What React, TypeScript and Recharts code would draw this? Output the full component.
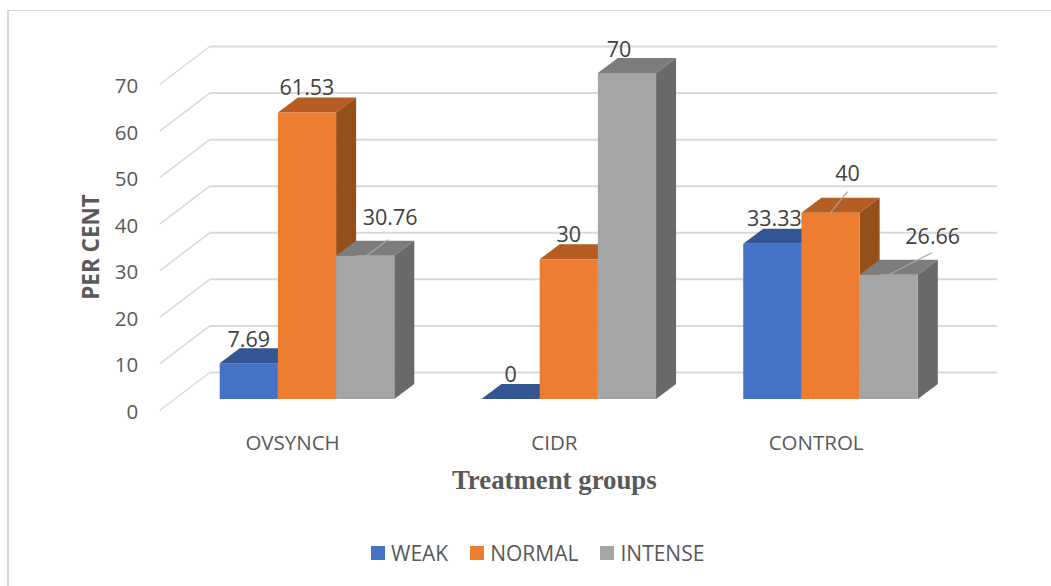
import { Bar, BarChart, CartesianGrid, LabelList, Legend, XAxis, YAxis } from "recharts";

const groups = ["OVSYNCH", "CIDR", "CONTROL"];
const weak = [7.69, 0, 33.33];
const normal = [61.53, 30, 40];
const intense = [30.76, 70, 26.66];
const yTicks = [0, 10, 20, 30, 40, 50, 60, 70];
const seriesOrder = ["WEAK", "NORMAL", "INTENSE"];

const data = groups.map((group, i) => ({
  group,
  WEAK: weak[i],
  NORMAL: normal[i],
  INTENSE: intense[i],
}));

const FONT = "'Open Sans', sans-serif";
const DEPTH_X = 20;
const DEPTH_Y = 15;
// how far the back wall sits from the front of the bars
const WALL_X = 34;
const WALL_Y = 26.5;

const palette = {
  WEAK: { front: "#4472C4", top: "#335593", side: "#2E4F8C" },
  NORMAL: { front: "#ED7D31", top: "#B55D22", side: "#95501A" },
  INTENSE: { front: "#A5A5A5", top: "#7C7C7C", side: "#696969" },
};

// label shift from the top centre of each bar, per group
const labelShift = {
  WEAK: [[0, -25], [0, -26], [2, -26]],
  NORMAL: [[0, -26], [0, -26], [17, -40]],
  INTENSE: [[25, -39], [-8, -25], [44, -39]],
};

// leader lines, only where the label was pulled away
const leaders = {
  WEAK: [null, null, null],
  NORMAL: [null, null, [0, 0, 17, -21]],
  INTENSE: [[0, 1, 23, -16], null, [0, 0, 43, -22]],
};

function Box3D(props: any) {
  const { x, y, width, height, name } = props;
  const c = palette[name as keyof typeof palette];
  const r = x + width;
  const b = y + height;
  return (
    <g>
      <polygon
        points={`${x},${y} ${x + DEPTH_X},${y - DEPTH_Y} ${r + DEPTH_X},${y - DEPTH_Y} ${r},${y}`}
        fill={c.top}
      />
      <polygon
        points={`${r},${y} ${r + DEPTH_X},${y - DEPTH_Y} ${r + DEPTH_X},${b - DEPTH_Y} ${r},${b}`}
        fill={c.side}
      />
      <rect x={x} y={y} width={width} height={height} fill={c.front} />
    </g>
  );
}

function barLabel(name: keyof typeof palette) {
  return (props: any) => {
    const { x, y, width, value, index } = props;
    const cx = x + width / 2;
    const [dx, dy] = labelShift[name][index];
    const leader = leaders[name][index];
    return (
      <g>
        {leader && (
          <line
            x1={cx + leader[0]}
            y1={y + leader[1]}
            x2={cx + leader[2]}
            y2={y + leader[3]}
            stroke="#A6A6A6"
            strokeWidth={1.2}
          />
        )}
        <text
          x={cx + dx}
          y={y + dy}
          textAnchor="middle"
          dominantBaseline="central"
          fontFamily={FONT}
          fontSize={21.5}
          fill="#404040"
        >
          {value}
        </text>
      </g>
    );
  };
}

function WallLine(props: any) {
  const { x1, x2, y1 } = props;
  const backY = y1 - WALL_Y;
  const backX = x1 + WALL_X;
  return (
    <g>
      <line x1={backX - 50} y1={backY + 38} x2={backX} y2={backY} stroke="#D9D9D9" strokeWidth={1.5} />
      <line x1={backX} y1={backY} x2={x2 + 36} y2={backY} stroke="#D9D9D9" strokeWidth={2} />
    </g>
  );
}

function YTick(props: any) {
  const { x, y, payload } = props;
  return (
    <text
      x={x - 37.5}
      y={y + 12}
      textAnchor="end"
      dominantBaseline="central"
      fontFamily={FONT}
      fontSize={20.5}
      fill="#595959"
    >
      {payload.value}
    </text>
  );
}

function XTick(props: any) {
  const { x, y, payload } = props;
  return (
    <text
      x={x - 14}
      y={y + 41}
      textAnchor="middle"
      dominantBaseline="central"
      fontFamily={FONT}
      fontSize={20.5}
      fill="#595959"
    >
      {payload.value}
    </text>
  );
}

function YTitle() {
  return (
    <text
      transform="translate(90, 247) rotate(-90)"
      textAnchor="middle"
      dominantBaseline="central"
      fontFamily={FONT}
      fontWeight={700}
      fontSize={22.5}
      fill="#595959"
    >
      PER CENT
    </text>
  );
}

function LegendRow(props: any) {
  const payload = props.payload ?? [];
  const items = seriesOrder
    .map((name) => payload.find((p: any) => p.value === name))
    .filter(Boolean);
  return (
    <div style={{ display: "flex", alignItems: "center", fontFamily: FONT, fontSize: 21, color: "#595959" }}>
      {items.map((item: any) => (
        <div key={item.value} style={{ display: "flex", alignItems: "center", marginRight: 22 }}>
          <span style={{ width: 14, height: 14, background: item.color, marginRight: 6 }} />
          {item.value}
        </div>
      ))}
    </div>
  );
}

export default function App() {
  return (
    <div style={{ position: "absolute", left: 0, top: 0, width: 1051, height: 586, background: "#fff" }}>
      <div
        style={{
          position: "absolute",
          left: 7,
          top: 10,
          right: 0,
          bottom: 0,
          borderLeft: "2px solid #D9D9D9",
          borderTop: "1px solid #D9D9D9",
        }}
      />
      <div style={{ position: "absolute", left: 0, top: 0 }}>
        <BarChart
          width={1051}
          height={586}
          data={data}
          margin={{ top: 73, right: 90, bottom: 37, left: 60 }}
          barSize={58.2}
          barGap={0}
        >
          <CartesianGrid vertical={false} horizontal={(p: any) => <WallLine key={p.key} {...p} />} />
          <XAxis
            dataKey="group"
            height={100}
            axisLine={false}
            tickLine={false}
            tickSize={0}
            tick={<XTick />}
            interval={0}
            label={{
              value: "Treatment groups",
              position: "insideTop",
              offset: 71,
              dx: -14,
              style: {
                fontFamily: "'Liberation Serif', serif",
                fontWeight: 700,
                fontSize: 26.8,
                fill: "#595959",
              },
            }}
          />
          <YAxis
            width={115.7}
            domain={[0, 70]}
            ticks={yTicks}
            axisLine={false}
            tickLine={false}
            tickSize={0}
            tickMargin={0}
            tick={<YTick />}
            label={{ content: <YTitle /> }}
          />
          <Legend
            verticalAlign="bottom"
            height={50}
            content={<LegendRow />}
            wrapperStyle={{ left: 371, top: 539, width: "auto" }}
          />
          <Bar dataKey="WEAK" name="WEAK" fill={palette.WEAK.front} shape={<Box3D />} isAnimationActive={false}>
            <LabelList dataKey="WEAK" content={barLabel("WEAK")} />
          </Bar>
          <Bar dataKey="NORMAL" name="NORMAL" fill={palette.NORMAL.front} shape={<Box3D />} isAnimationActive={false}>
            <LabelList dataKey="NORMAL" content={barLabel("NORMAL")} />
          </Bar>
          <Bar dataKey="INTENSE" name="INTENSE" fill={palette.INTENSE.front} shape={<Box3D />} isAnimationActive={false}>
            <LabelList dataKey="INTENSE" content={barLabel("INTENSE")} />
          </Bar>
        </BarChart>
      </div>
    </div>
  );
}
